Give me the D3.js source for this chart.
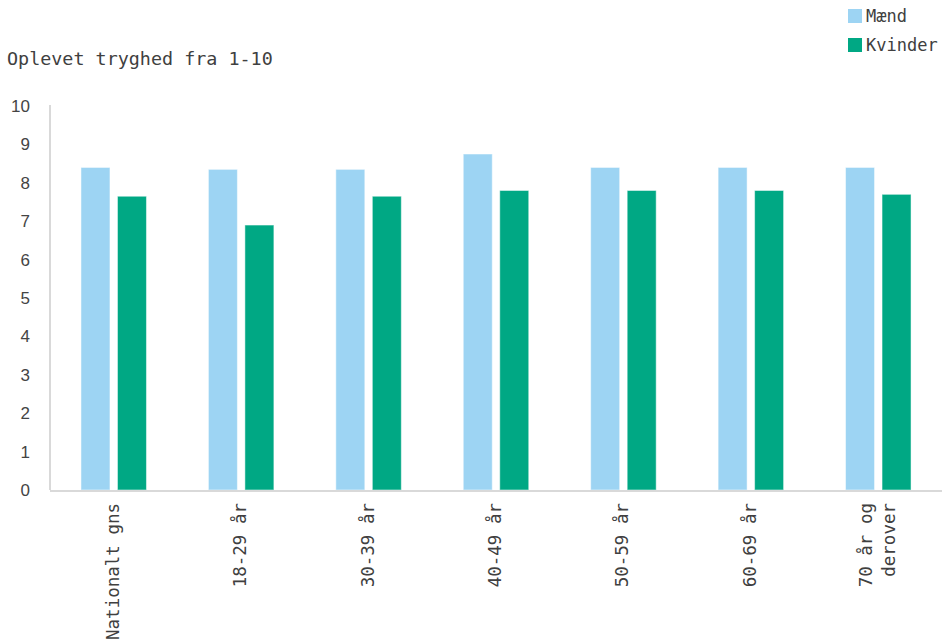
<!DOCTYPE html>
<html>
<head>
<meta charset="utf-8">
<script src="https://cdn.jsdelivr.net/npm/d3@7"></script>
<style>
  html, body { margin: 0; padding: 0; background: #fff; }
  svg { display: block; }
  .mono { font-family: "DejaVu Sans Mono", "Liberation Mono", monospace; fill: #404040; }
  .tick-y { font-family: "Liberation Sans", Arial, sans-serif; fill: #444; }
</style>
</head>
<body>
<div id="chart"></div>
<script>
  // data
  const categories = [["Nationalt gns"], ["18-29 år"], ["30-39 år"], ["40-49 år"], ["50-59 år"], ["60-69 år"], ["70 år og", "derover"]];
  const series = ["Mænd", "Kvinder"];
  const maend = [8.4, 8.35, 8.35, 8.75, 8.4, 8.4, 8.4];
  const kvinder = [7.65, 6.9, 7.65, 7.8, 7.8, 7.8, 7.7];
  const yTicks = [0, 1, 2, 3, 4, 5, 6, 7, 8, 9, 10];
  const colors = ["#9dd4f3", "#00a884"];

  const W = 944, H = 644;
  const m = { left: 50, right: 942, top: 106, bottom: 490 };

  const svg = d3.select("#chart").append("svg")
    .attr("width", W).attr("height", H);

  const x = d3.scaleBand().domain(d3.range(categories.length)).range([m.left, m.right]).padding(0);
  const y = d3.scaleLinear().domain([0, 10]).range([m.bottom, m.top]);

  // inner offsets for the two bars in a group
  const barW = 29, gap = 7.5;
  const xi = d3.scaleOrdinal().domain(series).range([-(barW + gap / 2), gap / 2]);

  const rows = categories.map((c, i) => ({ i, vals: [maend[i], kvinder[i]] }));

  const g = svg.append("g").selectAll("g.grp")
    .data(rows).join("g")
    .attr("class", "grp")
    .attr("transform", d => `translate(${x(d.i) + x.bandwidth() / 2},0)`);

  g.selectAll("rect")
    .data(d => d.vals.map((v, k) => ({ v, s: series[k], k })))
    .join("rect")
    .attr("x", d => xi(d.s))
    .attr("width", barW)
    .attr("y", d => y(d.v))
    .attr("height", d => y(0) - y(d.v))
    .attr("fill", d => colors[d.k])
    .attr("stroke", "#fff")
    .attr("stroke-opacity", 0.5)
    .attr("stroke-width", 1);

  // axis lines
  svg.append("line")
    .attr("x1", m.left).attr("x2", m.left)
    .attr("y1", m.top - 1).attr("y2", m.bottom)
    .attr("stroke", "#d9d9d9").attr("stroke-width", 2);
  svg.append("line")
    .attr("x1", m.left).attr("x2", m.right)
    .attr("y1", m.bottom + 1).attr("y2", m.bottom + 1)
    .attr("stroke", "#d9d9d9").attr("stroke-width", 2);

  // y tick labels
  svg.append("g").selectAll("text")
    .data(yTicks).join("text")
    .attr("class", "tick-y")
    .attr("x", 30)
    .attr("y", d => y(d))
    .attr("dy", "0.35em")
    .attr("text-anchor", "end")
    .attr("font-size", 17)
    .text(d => d);

  // x labels, rotated
  const xl = svg.append("g").selectAll("text")
    .data(categories).join("text")
    .attr("class", "mono")
    .attr("font-size", 17.5)
    .attr("text-anchor", "end")
    .attr("transform", (d, i) => {
      const n = d.length;
      const cx = x(i) + x.bandwidth() / 2 + 5 - (n - 1) * 11.5;
      return `translate(${cx},503) rotate(-90)`;
    });
  xl.selectAll("tspan")
    .data(d => d).join("tspan")
    .attr("x", 0)
    .attr("dy", (d, j) => j === 0 ? 0 : 23)
    .text(d => d);

  // title
  svg.append("text")
    .attr("class", "mono")
    .attr("x", 7).attr("y", 65)
    .attr("font-size", 18.4)
    .text("Oplevet tryghed fra 1-10");

  // legend
  const lg = svg.append("g").selectAll("g")
    .data(series).join("g")
    .attr("transform", (d, i) => `translate(848,${9 + i * 29})`);
  lg.append("rect").attr("width", 14).attr("height", 14).attr("fill", (d, i) => colors[i]);
  lg.append("text")
    .attr("class", "mono")
    .attr("x", 18).attr("y", 7).attr("dy", "0.35em")
    .attr("font-size", 17)
    .text(d => d);
</script>
</body>
</html>
